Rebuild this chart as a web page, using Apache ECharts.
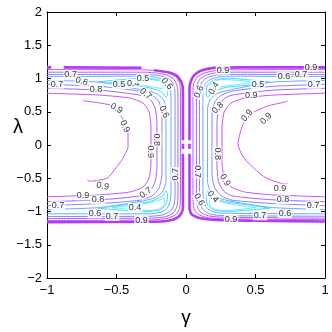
<!DOCTYPE html>
<html><head><meta charset="utf-8">
<script src="https://cdn.jsdelivr.net/npm/echarts@6/dist/echarts.min.js"></script>
<style>html,body{margin:0;padding:0;background:#fff}#c{width:332px;height:332px}</style>
</head><body><div id="c"></div>
<script>
// ---- contour paths, [gamma, lambda] ----
// thick outermost (highest level)
const T_L1 = [[-1,1.168],[-0.97,1.168]];
const T_L2 = [[-0.88,1.168],[-0.32,1.162]];
const T_L3 = [[-0.23,1.125],[-0.13,1.095],[-0.065,1.04],[-0.03,0.93],[-0.022,0.8],[-0.022,0.07]];
const T_L4 = [[-0.022,0.02],[-0.022,-0.06]];
const T_L5 = [[-0.022,-0.13],[-0.022,-0.93],[-0.032,-1.02],[-0.065,-1.095],[-0.13,-1.14],[-0.26,-1.155],[-1,-1.16]];
const T_R1 = [[0.025,0.07],[0.025,0.85],[0.035,0.96],[0.06,1.05],[0.11,1.12],[0.2,1.16],[0.4,1.168],[1,1.168]];
const T_R2 = [[0.025,0.02],[0.025,-0.06]];
const T_R3 = [[0.025,-0.13],[0.025,-0.95],[0.04,-1.04],[0.09,-1.095],[0.2,-1.125],[0.5,-1.14],[1,-1.15]];

// outer branches, left
const O9_L = [[-1,1.135],[-0.3,1.13],[-0.2,1.115],[-0.12,1.08],[-0.07,1.02],[-0.045,0.92],[-0.04,0.8],[-0.04,-0.82],[-0.048,-0.96],[-0.075,-1.05],[-0.14,-1.105],[-0.26,-1.128],[-1,-1.135]];
const O8_L = [[-1,1.095],[-0.3,1.095],[-0.2,1.08],[-0.13,1.045],[-0.085,0.98],[-0.063,0.88],[-0.058,0.78],[-0.058,-0.8],[-0.066,-0.93],[-0.09,-1.02],[-0.15,-1.08],[-0.26,-1.1],[-1,-1.105]];
const O7_L = [[-1,1.06],[-0.3,1.062],[-0.21,1.05],[-0.145,1.015],[-0.1,0.95],[-0.082,0.85],[-0.079,0.75],[-0.079,-0.76],[-0.086,-0.9],[-0.11,-0.99],[-0.165,-1.05],[-0.26,-1.072],[-1,-1.075]];
const O6_L = [[-1,1.03],[-0.3,1.035],[-0.22,1.02],[-0.16,0.98],[-0.125,0.91],[-0.11,0.8],[-0.108,0.7],[-0.108,-0.7],[-0.115,-0.85],[-0.135,-0.95],[-0.18,-1.01],[-0.26,-1.035],[-1,-1.035]];
// inner branches, left
const I6_L = [[-1,0.971],[-0.619,0.945],[-0.331,0.835],[-0.22,0.78],[-0.165,0.69],[-0.144,0.55],[-0.144,-0.55],[-0.165,-0.69],[-0.22,-0.79],[-0.331,-0.85],[-0.619,-0.94],[-1,-0.971]];
const I7_L = [[-1,0.912],[-0.619,0.882],[-0.331,0.809],[-0.245,0.75],[-0.194,0.647],[-0.173,0.44],[-0.173,-0.44],[-0.194,-0.647],[-0.245,-0.765],[-0.331,-0.83],[-0.619,-0.88],[-1,-0.912]];
const I8_L = [[-1,0.853],[-0.619,0.824],[-0.331,0.75],[-0.259,0.691],[-0.223,0.56],[-0.209,0.34],[-0.209,-0.34],[-0.223,-0.56],[-0.259,-0.691],[-0.331,-0.765],[-0.619,-0.824],[-1,-0.853]];
const I9_L = [[-1,0.779],[-0.619,0.75],[-0.403,0.706],[-0.309,0.632],[-0.266,0.5],[-0.252,0.265],[-0.252,-0.265],[-0.266,-0.5],[-0.309,-0.632],[-0.403,-0.706],[-0.619,-0.75],[-1,-0.779]];
const C9_L = [[-0.74,0.68],[-0.727,0.662],[-0.619,0.632],[-0.532,0.588],[-0.46,0.412],[-0.417,0.162],[-0.417,-0.029],[-0.46,-0.221],[-0.496,-0.324],[-0.568,-0.5],[-0.691,-0.544],[-0.71,-0.53]];
const V5T_L = [[-0.633,0.949],[-0.475,0.98],[-0.295,1.005],[-0.19,0.975],[-0.145,0.9],[-0.132,0.76],[-0.144,0.72],[-0.175,0.8],[-0.273,0.865],[-0.439,0.9],[-0.633,0.949]];
const V4T_L = [[-0.547,0.941],[-0.403,0.968],[-0.259,0.985],[-0.19,0.96],[-0.162,0.9],[-0.168,0.845],[-0.223,0.868],[-0.331,0.9],[-0.475,0.925],[-0.547,0.941]];
const V5B_L = [[-0.633,-0.949],[-0.475,-0.98],[-0.295,-1.005],[-0.19,-0.975],[-0.145,-0.9],[-0.132,-0.74],[-0.144,-0.69],[-0.175,-0.78],[-0.273,-0.855],[-0.439,-0.9],[-0.633,-0.949]];
const V4B_L = [[-0.53,-0.94],[-0.403,-0.968],[-0.259,-0.985],[-0.19,-0.96],[-0.155,-0.88],[-0.16,-0.8],[-0.2,-0.835],[-0.331,-0.895],[-0.475,-0.925],[-0.53,-0.94]];

// right half
const O9_R = [[1,1.135],[0.3,1.13],[0.2,1.115],[0.13,1.08],[0.08,1.02],[0.055,0.92],[0.05,0.8],[0.05,-0.82],[0.058,-0.96],[0.085,-1.04],[0.15,-1.09],[0.26,-1.11],[1,-1.12]];
const O8_R = [[1,1.095],[0.3,1.095],[0.2,1.08],[0.14,1.045],[0.095,0.98],[0.078,0.88],[0.075,0.78],[0.075,-0.8],[0.082,-0.93],[0.105,-1.01],[0.16,-1.065],[0.26,-1.085],[1,-1.1]];
const O7_R = [[1,1.06],[0.3,1.062],[0.22,1.05],[0.155,1.015],[0.115,0.95],[0.1,0.85],[0.097,0.75],[0.097,-0.76],[0.104,-0.9],[0.125,-0.98],[0.175,-1.04],[0.26,-1.062],[1,-1.072]];
const O6_R = [[1,1.03],[0.3,1.035],[0.23,1.02],[0.17,0.98],[0.137,0.91],[0.124,0.8],[0.122,0.7],[0.122,-0.7],[0.129,-0.85],[0.148,-0.94],[0.19,-1.0],[0.26,-1.025],[1,-1.035]];
const I6_R = [[1,0.971],[0.619,0.945],[0.331,0.835],[0.23,0.78],[0.175,0.69],[0.155,0.55],[0.155,-0.55],[0.175,-0.69],[0.23,-0.79],[0.331,-0.85],[0.619,-0.94],[1,-0.971]];
const I7_R = [[1,0.912],[0.619,0.882],[0.331,0.809],[0.255,0.75],[0.207,0.647],[0.187,0.44],[0.187,-0.44],[0.207,-0.647],[0.255,-0.765],[0.331,-0.83],[0.619,-0.88],[1,-0.912]];
const I8_R = [[1,0.853],[0.619,0.824],[0.331,0.75],[0.27,0.691],[0.236,0.56],[0.223,0.34],[0.223,-0.34],[0.236,-0.56],[0.27,-0.691],[0.331,-0.765],[0.619,-0.824],[1,-0.853]];
const I9_R = [[1,0.779],[0.619,0.75],[0.42,0.706],[0.325,0.632],[0.275,0.5],[0.259,0.265],[0.259,-0.265],[0.275,-0.5],[0.325,-0.632],[0.42,-0.706],[0.619,-0.75],[1,-0.779]];
const C9_R = [[0.73,0.66],[0.712,0.647],[0.59,0.588],[0.482,0.485],[0.41,0.309],[0.374,0.015],[0.41,-0.176],[0.475,-0.324],[0.568,-0.485],[0.712,-0.588],[0.73,-0.575]];
const V5T_R = [[0.6,0.95],[0.45,0.98],[0.3,1.005],[0.2,0.975],[0.155,0.9],[0.145,0.76],[0.157,0.72],[0.19,0.8],[0.285,0.865],[0.45,0.9],[0.6,0.95]];
const V4T_R = [[0.5,0.94],[0.4,0.968],[0.26,0.985],[0.2,0.96],[0.172,0.9],[0.178,0.845],[0.233,0.868],[0.34,0.9],[0.45,0.925],[0.5,0.94]];
const V5B_R = [[0.6,-0.95],[0.45,-0.98],[0.3,-1.0],[0.2,-0.975],[0.155,-0.9],[0.145,-0.74],[0.157,-0.69],[0.19,-0.78],[0.285,-0.855],[0.45,-0.9],[0.6,-0.95]];
const V4B_R = [[0.5,-0.94],[0.4,-0.968],[0.26,-0.985],[0.2,-0.96],[0.168,-0.88],[0.172,-0.8],[0.215,-0.835],[0.34,-0.895],[0.45,-0.925],[0.5,-0.94]];

// level of each path
const pathLevels = ['T','T','T','T','T','T','T','T',
  '0.9','0.8','0.7','0.6','0.6','0.7','0.8','0.9','0.9','0.5','0.4','0.5','0.4',
  '0.9','0.8','0.7','0.6','0.6','0.7','0.8','0.9','0.9','0.5','0.4','0.5','0.4'];
const paths = [T_L1,T_L2,T_L3,T_L4,T_L5,T_R1,T_R2,T_R3,
  O9_L,O8_L,O7_L,O6_L,I6_L,I7_L,I8_L,I9_L,C9_L,V5T_L,V4T_L,V5B_L,V4B_L,
  O9_R,O8_R,O7_R,O6_R,I6_R,I7_R,I8_R,I9_R,C9_R,V5T_R,V4T_R,V5B_R,V4B_R];

// ---- inline contour labels ----
const labelText = ['0.7','0.6','0.7','0.8','0.5','0.4','0.5','0.6','0.7','0.9','0.9','0.6','0.8','0.9','0.7',
  '0.9','0.9','0.8','0.7','0.7','0.4','0.6','0.7','0.9',
  '0.9','0.9','0.6','0.7','0.7','0.5','0.9','0.4','0.6','0.8','0.9','0.9','0.8','0.7',
  '0.9','0.6','0.4','0.9','0.8','0.7','0.7','0.6','0.9'];
const labelPos = [[-0.83,1.062],[-0.75,0.955],[-0.928,0.912],[-0.647,0.835],[-0.482,0.905],[-0.38,0.925],[-0.309,1.0],[-0.137,0.92],[-0.29,0.77],[-0.5,0.55],[-0.44,0.28],[-0.158,0.5],[-0.209,0.08],[-0.252,-0.1],[-0.079,-0.44],
  [-0.6,-0.62],[-0.741,-0.765],[-0.633,-0.824],[-0.921,-0.912],[-0.29,-0.72],[-0.367,-0.94],[-0.655,-1.035],[-0.532,-1.074],[-0.32,-1.13],
  [0.266,1.125],[0.9,1.168],[0.705,1.035],[0.827,1.062],[0.921,0.912],[0.518,0.91],[0.47,0.74],[0.201,0.853],[0.094,0.8],[0.23,0.56],[0.439,0.441],[0.576,0.397],[0.223,-0.13],[0.085,-0.40],
  [0.281,-0.529],[0.094,-0.824],[0.194,-0.779],[0.676,-0.65],[0.698,-0.824],[0.914,-0.912],[0.532,-1.065],[0.712,-1.03],[0.324,-1.115]];
const labelRot = [0,-15,0,0,0,0,0,-50,-40,-30,-65,-65,-90,-90,90,
  -10,0,0,0,35,0,0,0,0,
  0,0,0,0,0,0,0,60,65,45,50,45,-90,-90,
  -60,-60,-50,0,0,0,0,0,0];

// ---- styles ----
const levelStyle = {
  'T':   {color:'#b23cf2', width:2.6},
  '0.9': {color:'#cc50f6', width:1},
  '0.8': {color:'#a261ff', width:1},
  '0.7': {color:'#8682ff', width:1},
  '0.6': {color:'#66a8ff', width:1},
  '0.5': {color:'#48d4fb', width:1},
  '0.4': {color:'#40f0f0', width:0.9}
};
const MINUS = '\u2212';
const fmt = v => String(v).replace('-', MINUS);
const FONT = 'Liberation Sans, Arial, sans-serif';

const series = paths.map((p, i) => ({
  type: 'line', data: p, showSymbol: false, symbol: 'none', smooth: 0.2,
  lineStyle: {color: levelStyle[pathLevels[i]].color, width: levelStyle[pathLevels[i]].width},
  silent: true, z: pathLevels[i] === 'T' ? 3 : 2
}));
series.push({
  type: 'scatter', symbolSize: 0, silent: true, z: 10,
  data: labelPos.map((p, i) => ({value: p, label: {formatter: labelText[i], rotate: labelRot[i]}})),
  label: {show: true, position: 'inside', fontSize: 9, color: '#000',
    fontFamily: FONT, backgroundColor: '#fff', padding: [0, 1], lineHeight: 9}
});

const axisCommon = {
  type: 'value', splitLine: {show: false},
  axisLine: {show: true, onZero: false, lineStyle: {color: '#000', width: 1}},
  axisTick: {show: true, inside: true, length: 4, lineStyle: {color: '#000'}},
  axisLabel: {fontSize: 13, color: '#000', fontFamily: FONT, formatter: fmt}
};

const chart = echarts.init(document.getElementById('c'), null, {renderer: 'canvas'});
chart.setOption({
  animation: false,
  backgroundColor: '#fff',
  grid: {left: 47, right: 7, top: 12, bottom: 48, containLabel: false},
  graphic: [{type: 'text', left: 13, top: 117, silent: true,
    style: {text: 'λ', fontSize: 20, fill: '#000', fontFamily: FONT}}],
  xAxis: [
    Object.assign({}, axisCommon, {position: 'bottom', min: -1, max: 1, interval: 0.5,
      axisLabel: Object.assign({}, axisCommon.axisLabel, {margin: 6}),
      name: 'γ', nameLocation: 'middle', nameGap: 30, nameMoveOverlap: false,
      nameTextStyle: {fontSize: 19, color: '#000', fontFamily: FONT}}),
    Object.assign({}, axisCommon, {position: 'top', min: -1, max: 1, interval: 0.5, axisLabel: {show: false}})
  ],
  yAxis: [
    Object.assign({}, axisCommon, {position: 'left', min: -2, max: 2, interval: 0.5,
      axisLabel: Object.assign({}, axisCommon.axisLabel, {margin: 5})}),
    Object.assign({}, axisCommon, {position: 'right', min: -2, max: 2, interval: 0.5, axisLabel: {show: false}})
  ],
  series: series
});
</script></body></html>
